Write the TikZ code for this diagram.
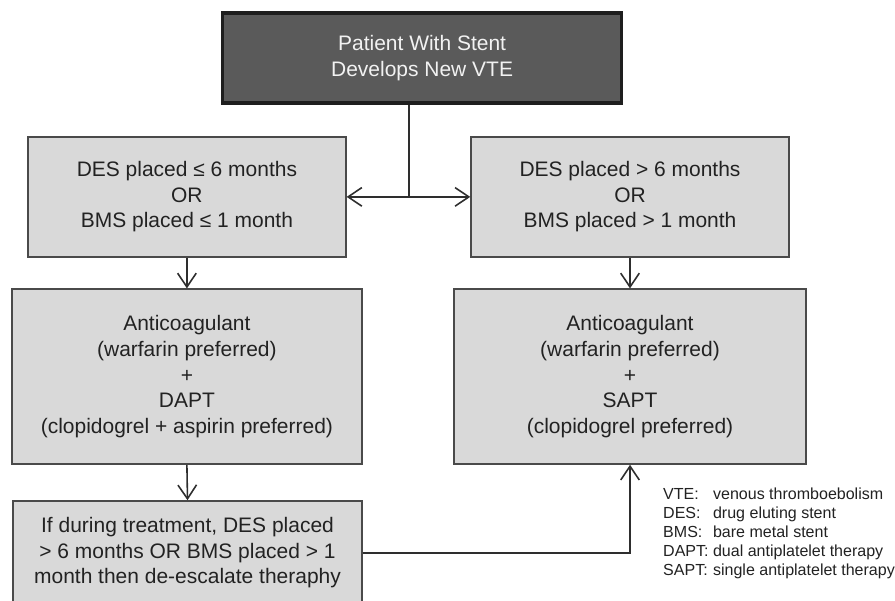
\documentclass[tikz,border=0pt]{standalone}
\usepackage{fontspec}
\setmainfont{Liberation Sans}
\usetikzlibrary{arrows.meta, positioning, calc}
\definecolor{boxgray}{HTML}{D9D9D9}
\definecolor{edgegray}{HTML}{4A4A4A}
\definecolor{topfill}{HTML}{5A5A5A}
\definecolor{topedge}{HTML}{1E1E1E}
\definecolor{linedk}{HTML}{2E2E2E}
\definecolor{txtdk}{HTML}{222222}
\definecolor{txtlt}{HTML}{F2F2F2}

\begin{document}
\begin{tikzpicture}[
  >={Straight Barb[length=4.6mm, width=6.2mm]},
  flowbox/.style={
    draw=edgegray, line width=1.4pt, fill=boxgray,
    font=\fontsize{19.9}{24.2}\selectfont,
    text=txtdk, align=center, inner sep=4pt
  },
  arr/.style={->, line width=1.5pt, linedk},
]

% Page frame
\useasboundingbox (0,0) rectangle (29.833,20.033);
\fill[white] (0,0) rectangle (29.833,20.033);

% ---- Start box ----
\node[draw=topedge, line width=3.5pt, fill=topfill,
  minimum width=133mm, minimum height=30mm,
  font=\fontsize{19.9}{24.2}\selectfont,
  text=txtlt, align=center, inner sep=4pt]
  (start) at (14.07,18.1)
  {Patient With Stent\\Develops New VTE};

% ---- Stent timing boxes ----
\node[flowbox, minimum width=106mm, minimum height=40mm]
  (early) at (6.23,13.47)
  {DES placed ≤ 6 months\\OR\\BMS placed ≤ 1 month};
\node[flowbox, minimum width=106mm, minimum height=40mm]
  (late) at (21.0,13.47)
  {DES placed > 6 months\\OR\\BMS placed > 1 month};

% ---- Treatment boxes ----
\node[flowbox, minimum width=116.7mm, minimum height=58.3mm]
  (dapt) at (6.23,7.48)
  {Anticoagulant\\(warfarin preferred)\\+\\DAPT\\(clopidogrel + aspirin preferred)};
\node[flowbox, minimum width=117.3mm, minimum height=58.3mm]
  (sapt) at (21.0,7.48)
  {Anticoagulant\\(warfarin preferred)\\+\\SAPT\\(clopidogrel preferred)};

% ---- De-escalation box ----
\node[flowbox, minimum width=116.3mm, minimum height=34.7mm]
  (deesc) at (6.25,1.6)
  {If during treatment, DES placed\\> 6 months OR BMS placed > 1\\month then de-escalate theraphy};

% Split from start box
\coordinate (split) at (13.63,13.47);
\draw[line width=1.5pt, linedk] (start.south -| split) -- (split);
\draw[arr] (split) -- (early.east);
\draw[arr] (split) -- (late.west);

% Down the columns
\draw[arr] (early.south) -- (dapt.north);
\draw[arr] (late.south) -- (sapt.north);
\draw[arr] (dapt.south) -- (deesc.north);

% De-escalate back to SAPT
\draw[arr] (deesc.east) -| (sapt.south);

% ---- Legend ----
\node[anchor=north west, inner sep=0pt, text=txtdk,
  font=\fontsize{15.2}{18}\selectfont]
  (legend) at (22.1,3.843)
  {\begin{tabular}{@{}l@{~}l@{}}
   VTE:  & venous thromboebolism\\
   DES:  & drug eluting stent\\
   BMS:  & bare metal stent\\
   DAPT: & dual antiplatelet therapy\\
   SAPT: & single antiplatelet therapy
   \end{tabular}};

\end{tikzpicture}
\end{document}
